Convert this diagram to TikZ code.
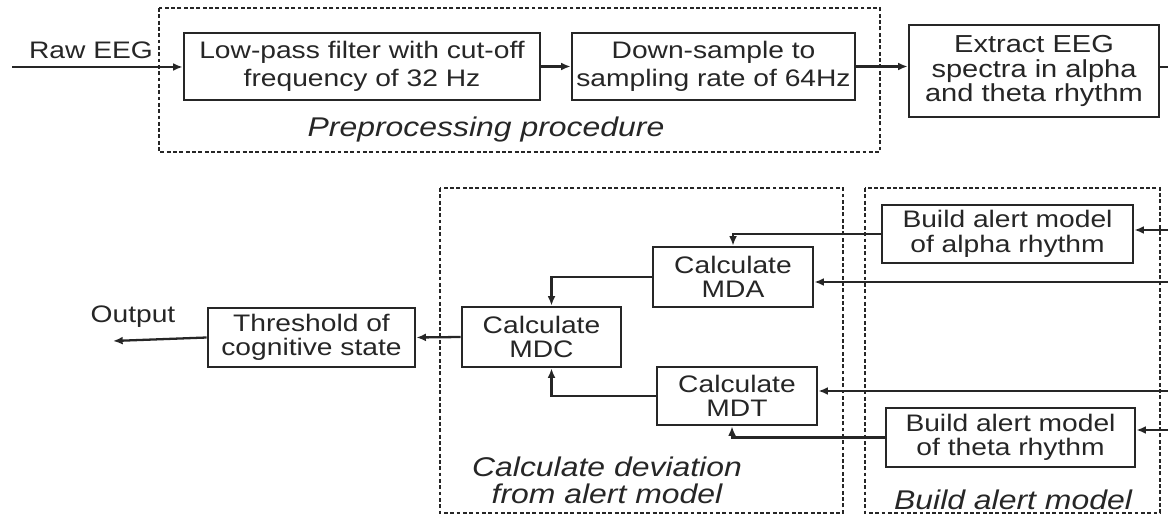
\documentclass[tikz,border=0pt]{standalone}
\usepackage{fontspec}
\setmainfont{Liberation Sans}[FakeStretch=1.18]
\usetikzlibrary{arrows.meta}
\definecolor{eegink}{HTML}{262626}

\begin{document}
\begin{tikzpicture}[
        x=0.02cm, y=-0.02cm,
        every node/.style={font=\fontsize{13.6}{14}\selectfont, text=eegink},
        blk/.style={
          draw=eegink, line width=1.5pt,
          fill=white, inner sep=0pt, align=center,
        },
        grp/.style={draw=eegink, line width=1.2pt, dash pattern=on 2.2pt off 1.4pt},
        arr/.style={-{Latex[length=5.5pt,width=4.5pt]}, draw=eegink, line width=1.3pt},
        lbl/.style={font=\fontsize{15.4}{15.5}\selectfont\itshape, align=center},
      ]
      \useasboundingbox (0,0) rectangle (1168,516);
      % group frames
      \draw[grp] (159,8) rectangle (880,152);
      \draw[grp] (440,188) rectangle (843,513);
      \draw[grp] (865,188) rectangle (1160,513);
      \node[lbl] (lpre) at (486,130) {Preprocessing procedure};
      \node[lbl] (ldev) at (607,480) {Calculate deviation\\from alert model};
      \node[lbl] (lbld) at (1013,500) {Build alert model};

      % preprocessing row
      \coordinate (raw) at (12,67);
      \coordinate (extout) at (1168,67);
      \node (lraw) at (91,50) {Raw EEG};
      \node[blk, minimum width=7.12cm, minimum height=1.34cm] (lpf) at (362,66.5)
        {Low-pass filter with cut-off\\[2pt]frequency of 32 Hz};
      \node[blk, minimum width=5.66cm, minimum height=1.34cm] (ds) at (713.5,66.5)
        {Down-sample to\\[2pt]sampling rate of 64Hz};
      \node[blk, font=\fontsize{14}{14.2}\selectfont,
            minimum width=5.0cm, minimum height=1.84cm] (ext) at (1034,71)
        {Extract EEG\\spectra in alpha\\and theta rhythm};
      \draw[arr] (raw) -- (raw -| lpf.west);
      \draw[arr] (lpf.east) -- (ds.west);
      \draw[arr] (ds.east) -- (ds.east -| ext.west);
      \draw[arr, -] (extout -| ext.east) -- (extout);

      % alert models and deviations
      \coordinate (ina) at (1168,230);
      \coordinate (inmda) at (1168,282);
      \coordinate (inmdt) at (1168,391);
      \coordinate (int) at (1168,430);
      \coordinate (out) at (113,341);
      \node[blk, minimum width=5.02cm, minimum height=1.16cm] (alpha) at (1007.5,234)
        {Build alert model\\of alpha rhythm};
      \node[blk, minimum width=4.98cm, minimum height=1.18cm] (theta) at (1010.5,437.5)
        {Build alert model\\of theta rhythm};
      \node[blk, minimum width=3.2cm, minimum height=1.2cm] (mda) at (733,277)
        {Calculate\\MDA};
      \node[blk, minimum width=3.18cm, minimum height=1.2cm] (mdc) at (541.5,337)
        {Calculate\\MDC};
      \node[blk, minimum width=3.2cm, minimum height=1.16cm] (mdt) at (737,396)
        {Calculate\\MDT};
      \node[blk, minimum width=4.14cm, minimum height=1.18cm] (thr) at (311.5,337.5)
        {Threshold of\\cognitive state};
      \node (lout) at (133,317) {Output};

      \draw[arr] (ina) -- (ina -| alpha.east);
      \draw[arr] (int) -- (int -| theta.east);
      \draw[arr] (inmda) -- (inmda -| mda.east);
      \draw[arr] (inmdt) -- (inmdt -| mdt.east);
      \draw[arr] (alpha.west) -| (mda.north);
      \draw[arr] (theta.west) -| ([xshift=-0.1cm]mdt.south);
      \draw[arr] (mda.west) -| ([xshift=0.2cm]mdc.north);
      \draw[arr] (mdt.west) -| ([xshift=0.2cm]mdc.south);
      \draw[arr] (mdc.west) -- (thr.east);
      \draw[arr] (thr.west) -- (out);
    \end{tikzpicture}
\end{document}
